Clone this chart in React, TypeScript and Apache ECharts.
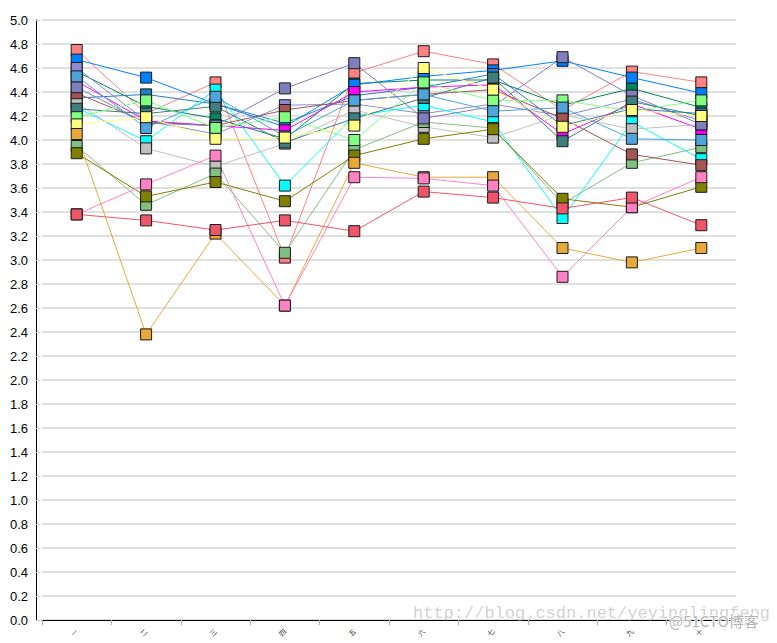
import React, { useEffect, useRef } from 'react';
import * as echarts from 'echarts';

const categories = ['一', '二', '三', '四', '五', '六', '七', '八', '九', '十'];
const yTicks = { min: 0, max: 5, interval: 0.2 };

const salmon = [4.75, 4.22, 4.48, 3.02, 4.56, 4.74, 4.63, 4.25, 4.57, 4.48];
const blue = [4.67, 4.52, 4.3, 4.11, 4.46, 4.53, 4.58, 4.66, 4.52, 4.39];
const purpleA = [4.44, 4.14, 4.12, 4.43, 4.64, 4.18, 4.28, 4.69, 4.37, 4.13];
const purpleB = [4.6, 4.16, 4.05, 4.29, 4.3, 4.22, 4.3, 4.2, 4.34, 4.16];
const darkGreen = [4.57, 4.28, 4.18, 4.01, 4.47, 4.5, 4.5, 4.29, 4.43, 4.27];
const steelBlue = [4.53, 4.1, 4.36, 4.03, 4.33, 4.38, 4.24, 4.27, 4.01, 4.0];
const steelBlue2 = [4.35, 4.38, 4.3, 4.14, 4.37, 4.44, 4.55, 4.12, 4.26, 4.22];
const magenta = [4.49, 4.16, 4.12, 4.08, 4.4, 4.44, 4.46, 4.05, 4.3, 4.09];
const brown = [4.39, 4.15, 4.12, 4.25, 4.33, 4.38, 4.42, 4.18, 3.88, 3.79];
const silver = [4.31, 3.93, 3.78, 3.97, 4.25, 4.11, 4.02, 4.21, 4.09, 4.13];
const teal = [4.26, 4.22, 4.28, 3.98, 4.18, 4.35, 4.52, 3.99, 4.32, 4.2];
const lightGreen = [4.19, 4.33, 4.1, 4.19, 4.0, 4.48, 4.33, 4.33, 4.24, 4.33];
const yellow = [4.13, 4.19, 4.01, 4.02, 4.12, 4.6, 4.42, 4.11, 4.25, 4.2];
const orange = [4.05, 2.38, 3.22, 2.62, 3.81, 3.69, 3.69, 3.1, 2.98, 3.1];
const green = [3.95, 3.46, 3.72, 3.06, 3.92, 4.15, 4.1, 3.47, 3.81, 3.94];
const olive = [3.89, 3.53, 3.65, 3.49, 3.87, 4.01, 4.09, 3.51, 3.44, 3.61];
const pink = [3.38, 3.63, 3.87, 2.62, 3.69, 3.68, 3.62, 2.86, 3.44, 3.69];
const red = [3.38, 3.33, 3.25, 3.33, 3.24, 3.57, 3.52, 3.43, 3.52, 3.29];
const cyan = [4.27, 3.99, 4.42, 3.62, 4.2, 4.29, 4.15, 3.35, 4.15, 3.84];

// drawing order: first = bottom, last = top
const seriesList: [string, string, number[]][] = [
  ['salmon', '#ff8080', salmon],
  ['darkGreen', '#00875c', darkGreen],
  ['blue', '#0080ff', blue],
  ['purpleB', '#8c8cd2', purpleB],
  ['steelBlue2', '#1f7fc6', steelBlue2],
  ['magenta', '#ff00ff', magenta],
  ['cyan', '#00ffff', cyan],
  ['silver', '#c0c0c0', silver],
  ['green', '#80c080', green],
  ['brown', '#a55454', brown],
  ['purpleA', '#7f7fbf', purpleA],
  ['teal', '#3f7f7f', teal],
  ['lightGreen', '#80ff80', lightGreen],
  ['steelBlue', '#50a4dc', steelBlue],
  ['yellow', '#ffff80', yellow],
  ['olive', '#808000', olive],
  ['orange', '#e8a83a', orange],
  ['pink', '#ff82c4', pink],
  ['red', '#f0566a', red],
];

export default function App() {
  const ref = useRef<HTMLDivElement>(null);
  useEffect(() => {
    const chart = echarts.init(ref.current!, null, { renderer: 'svg' });
    const series: any[] = [];
    seriesList.forEach(([name, color, data]) => {
      series.push({
        name: name + '-line',
        type: 'line',
        data,
        symbol: 'none',
        showSymbol: false,
        silent: true,
        z: 2,
        lineStyle: { color, width: 1 },
      });
    });
    seriesList.forEach(([name, color, data]) => {
      series.push({
        name,
        type: 'scatter',
        data,
        symbol: 'rect',
        symbolSize: 11,
        z: 3,
        itemStyle: { color, borderColor: '#1a1a1a', borderWidth: 1, opacity: 1 },
      });
    });
    chart.setOption({
      animation: false,
      backgroundColor: '#ffffff',
      grid: { left: 42, right: 41, top: 20, bottom: 23, containLabel: false, outerBoundsMode: 'none' },
      xAxis: {
        type: 'category',
        data: categories,
        boundaryGap: true,
        offset: 7,
        axisLine: { show: true, lineStyle: { color: '#000', width: 1 } },
        axisTick: { show: true, length: 5, lineStyle: { color: '#b0b0b0' } },
        axisLabel: { rotate: 45, fontSize: 7, margin: 3, color: '#333', fontFamily: 'Noto Sans CJK SC' },
        splitLine: { show: false },
      },
      yAxis: {
        type: 'value',
        min: yTicks.min,
        max: yTicks.max,
        interval: yTicks.interval,
        offset: 6,
        axisLine: { show: true, lineStyle: { color: '#000', width: 1 } },
        axisTick: { show: true, inside: true, length: 4, lineStyle: { color: '#c8c8c8' } },
        axisLabel: {
          formatter: (v: number) => v.toFixed(1),
          color: '#000',
          fontSize: 13,
          fontFamily: 'Liberation Sans, Arial, sans-serif',
          margin: 8,
        },
        splitLine: { show: true, lineStyle: { color: '#d6d6d6', width: 1.5 } },
      },
      graphic: [
        {
          type: 'text',
          left: 413,
          top: 605,
          z: 100,
          silent: true,
          style: {
            text: 'http://blog.csdn.net/yeyinglingfeng',
            fill: 'rgba(150,150,150,0.45)',
            font: '17px "Liberation Mono", "DejaVu Sans Mono", monospace',
          },
        },
        {
          type: 'text',
          left: 668,
          top: 612,
          z: 101,
          silent: true,
          style: {
            text: '@51CTO博客',
            fill: 'rgba(170,170,170,0.9)',
            stroke: 'rgba(255,255,255,0.9)',
            lineWidth: 2,
            font: '15px "Noto Sans CJK SC", sans-serif',
          },
        },
      ],
      series,
    });
    return () => chart.dispose();
  }, []);
  return <div ref={ref} style={{ position: 'absolute', left: 0, top: 0, width: 777, height: 643 }} />;
}
